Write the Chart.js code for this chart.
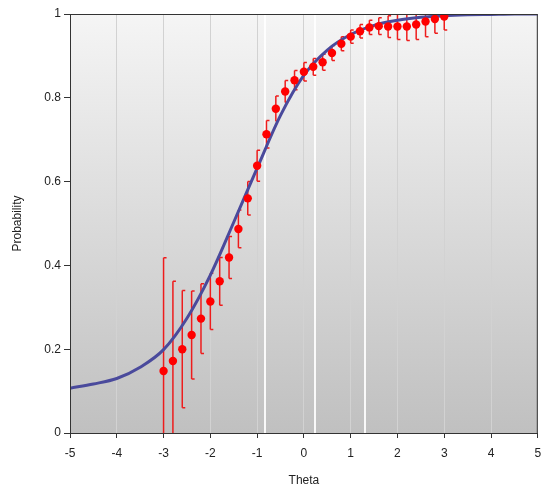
<!DOCTYPE html>
<html>
<head>
<meta charset="utf-8">
<script src="https://cdn.jsdelivr.net/npm/chart.js@4"></script>
<style>
  html, body { margin: 0; padding: 0; background: #fff; }
  #wrap { width: 542px; height: 492px; }
</style>
</head>
<body>
<div id="wrap"><canvas id="chartIcc" width="542" height="492"></canvas></div>
<script>
// observed proportions with error bars
const thetaPts = [-3.0, -2.8, -2.6, -2.4, -2.2, -2.0, -1.8, -1.6, -1.4, -1.2, -1.0, -0.8, -0.6, -0.4, -0.2,
    0.0, 0.2, 0.4, 0.6, 0.8, 1.0, 1.2, 1.4, 1.6, 1.8, 2.0, 2.2, 2.4, 2.6, 2.8, 3.0];
const probPts = [0.148, 0.172, 0.200, 0.234, 0.273, 0.314, 0.362, 0.419, 0.487, 0.560, 0.638, 0.713, 0.774, 0.815, 0.842,
    0.862, 0.874, 0.885, 0.907, 0.929, 0.946, 0.959, 0.968, 0.971, 0.970, 0.970, 0.970, 0.975, 0.982, 0.988, 0.994];
const errPts = [0.27, 0.19, 0.14, 0.105, 0.083, 0.067, 0.057, 0.05, 0.045, 0.04, 0.037, 0.033, 0.03, 0.026, 0.023,
    0.022, 0.02, 0.019, 0.018, 0.017, 0.016, 0.016, 0.017, 0.02, 0.026, 0.031, 0.033, 0.036, 0.036, 0.034, 0.032];

// model curve
const thetaCurve = [-5, -4.5, -4, -3.5, -3, -2.5, -2, -1.5, -1, -0.5, 0, 0.5, 1, 1.5, 2, 2.5, 3, 3.5, 4, 4.5, 5];
const probCurve = [0.107, 0.117, 0.130, 0.157, 0.199, 0.274, 0.377, 0.503, 0.632, 0.758, 0.854, 0.914, 0.951, 0.973, 0.985, 0.992, 0.996, 0.998, 0.999, 1.0, 1.0];

// light vertical streaks in the plot area
const streaks = [-0.83, 0.23, 1.3];

const xTicks = [-5, -4, -3, -2, -1, 0, 1, 2, 3, 4, 5];
const yTicks = [0, 0.2, 0.4, 0.6, 0.8, 1];

const fuente = { family: "'Liberation Sans', Arial, sans-serif", size: 12 };

const fondoPlugin = {
    id: 'fondo',
    beforeDraw(chart) {
        const { ctx, chartArea: a } = chart;
        const grad = ctx.createLinearGradient(0, a.top, 0, a.bottom);
        grad.addColorStop(0, '#f5f5f5');
        grad.addColorStop(1, '#c0c0c0');
        ctx.save();
        ctx.fillStyle = grad;
        ctx.fillRect(a.left, a.top, a.right - a.left, a.bottom - a.top);
        ctx.restore();
    },
    beforeDatasetsDraw(chart) {
        const { ctx, chartArea: a, scales } = chart;
        ctx.save();
        // streaks
        ctx.strokeStyle = 'rgba(255,255,255,0.9)';
        ctx.lineWidth = 2;
        streaks.forEach(t => {
            const x = Math.round(scales.x.getPixelForValue(t));
            ctx.beginPath();
            ctx.moveTo(x, a.top);
            ctx.lineTo(x, a.bottom);
            ctx.stroke();
        });
        // error bars
        ctx.beginPath();
        ctx.rect(a.left, a.top, a.right - a.left, a.bottom - a.top);
        ctx.clip();
        ctx.strokeStyle = '#ee1c1c';
        ctx.lineWidth = 1.5;
        thetaPts.forEach((t, i) => {
            const x = scales.x.getPixelForValue(t);
            const y1 = scales.y.getPixelForValue(probPts[i] + errPts[i]);
            const y2 = scales.y.getPixelForValue(probPts[i] - errPts[i]);
            ctx.beginPath();
            ctx.moveTo(x, y1);
            ctx.lineTo(x, y2);
            ctx.moveTo(x, y1);
            ctx.lineTo(x + 3, y1);
            ctx.moveTo(x, y2);
            ctx.lineTo(x + 3, y2);
            ctx.stroke();
        });
        ctx.restore();
    },
    afterDraw(chart) {
        const { ctx, chartArea: a } = chart;
        ctx.save();
        ctx.strokeStyle = '#333';
        ctx.lineWidth = 1;
        ctx.strokeRect(a.left + 0.5, a.top + 0.5, a.right - a.left - 1, a.bottom - a.top);
        ctx.restore();
    }
};

const canvas = document.getElementById('chartIcc');
const context = canvas.getContext('2d');

const chartIcc = new Chart(context, {
    type: 'scatter',
    data: {
        datasets: [
            {
                label: 'Observado',
                data: thetaPts.map((t, i) => ({ x: t, y: probPts[i] })),
                backgroundColor: '#ff0000',
                borderColor: '#ff0000',
                pointRadius: 4.2,
                pointBorderWidth: 0,
                order: 1
            },
            {
                label: 'Modelo',
                type: 'line',
                data: thetaCurve.map((t, i) => ({ x: t, y: probCurve[i] })),
                borderColor: '#4a4a9c',
                borderWidth: 3,
                pointRadius: 0,
                cubicInterpolationMode: 'monotone',
                fill: false,
                order: 2
            }
        ]
    },
    options: {
        responsive: false,
        animation: false,
        devicePixelRatio: 1,
        layout: { padding: { left: 0, right: 4, top: 14, bottom: 0 } },
        plugins: {
            legend: { display: false },
            tooltip: { enabled: false }
        },
        scales: {
            x: {
                type: 'linear',
                min: -5,
                max: 5,
                afterBuildTicks: axis => { axis.ticks = xTicks.map(v => ({ value: v })); },
                afterFit: axis => {
                    axis.height = 59;
                    axis.paddingLeft = 0;
                    axis.paddingRight = 0;
                },
                ticks: { color: '#222', font: fuente, padding: 8, callback: v => String(v) },
                grid: { color: '#d2d2d2', tickColor: '#333', tickLength: 5, lineWidth: 1 },
                border: { color: '#333', width: 1 },
                title: { display: true, text: 'Theta', color: '#222', font: fuente, padding: { top: 4, bottom: 4 } }
            },
            y: {
                min: 0,
                max: 1,
                afterBuildTicks: axis => { axis.ticks = yTicks.map(v => ({ value: v })); },
                afterFit: axis => { axis.width = 70; },
                ticks: { color: '#222', font: fuente, padding: 3, callback: v => String(Math.round(v * 10) / 10) },
                grid: { drawOnChartArea: false, tickColor: '#333', tickLength: 6 },
                border: { color: '#333', width: 1 },
                title: { display: true, text: 'Probability', color: '#222', font: fuente, padding: { top: 10, bottom: 0 } }
            }
        }
    },
    plugins: [fondoPlugin]
});
</script>
</body>
</html>
